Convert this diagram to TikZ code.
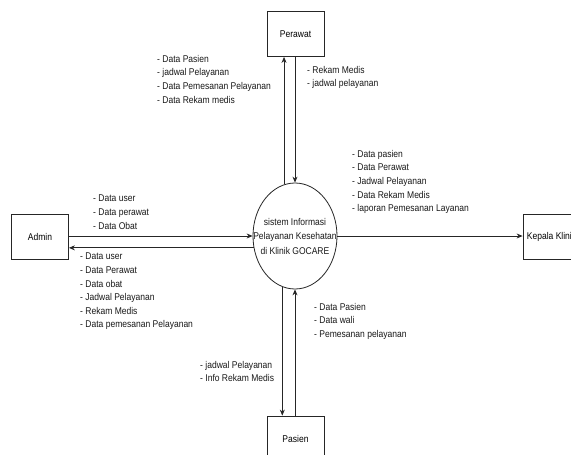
\documentclass[tikz,border=0pt]{standalone}
\usepackage{fontspec}
\setmainfont{Liberation Sans}[FakeStretch=0.87]
\usetikzlibrary{arrows.meta,shapes.geometric}
\newcommand\lblfont{\fontsize{9.8}{13.6}\selectfont}
\begin{document}
\begin{tikzpicture}[x=1pt,y=-1pt,
  ent/.style={draw=black!85, line width=0.8pt, minimum width=57pt, minimum height=45pt, inner sep=0pt, font=\lblfont},
  proc/.style={draw=black!85, line width=0.8pt, ellipse, minimum width=84pt, minimum height=106pt, inner sep=0pt},
  proctext/.style={align=center, inner sep=0pt, font=\lblfont\setlength{\baselineskip}{14.5pt}, text=black!90},
  lab/.style={anchor=north west, align=left, inner sep=0pt, font=\lblfont, text=black!90},
  flow/.style={draw=black!85, line width=0.8pt, -{Stealth[length=6pt,width=5pt]}}]
\useasboundingbox (0,0) rectangle (571,455);
\fill[white] (0,0) rectangle (571,455);
\clip (0,0) rectangle (571,455);
% entities
\node[ent] (P) at (295.5,34) {Perawat};
\node[ent] (A) at (40,236.5) {Admin};
\node[ent] (K) at (551.5,236.5) {Kepala Klinik};
\node[ent] (S) at (295.5,438.5) {Pasien};
\node[proc] (E) at (295,236) {};
\node[proctext] (Et) at (E.center) {sistem Informasi\\Pelayanan Kesehatan\\di Klinik GOCARE};
% flows
\draw[flow] (E.102) -- (E.102 |- P.south);
\draw[flow] (P.south -| E.north) -- (E.north);
\draw[flow] (A.east |- E.west) -- (E.west);
\draw[flow] (E.196) -- (E.196 -| A.east);
\draw[flow] (E.east) -- (K.west |- E.east);
\draw[flow] (E.256) -- (E.256 |- S.north);
\draw[flow] (S.north -| E.south) -- (E.south);
% labels
\node[lab] (l1) at (157,55) {- Data Pasien\\- jadwal Pelayanan\\- Data Pemesanan Pelayanan\\- Data Rekam medis};
\node[lab] (l2) at (307,66) {- Rekam Medis\\- jadwal pelayanan};
\node[lab] (l3) at (93,195) {- Data user\\- Data perawat\\- Data Obat};
\node[lab] (l4) at (80,253) {- Data user\\- Data Perawat\\- Data obat\\- Jadwal Pelayanan\\- Rekam Medis\\- Data pemesanan Pelayanan};
\node[lab] (l5) at (352,150) {- Data pasien\\- Data Perawat\\- Jadwal Pelayanan\\- Data Rekam Medis\\- laporan Pemesanan Layanan};
\node[lab] (l6) at (314,303) {- Data Pasien\\- Data wali\\- Pemesanan pelayanan};
\node[lab] (l7) at (200,361) {- jadwal Pelayanan\\- Info Rekam Medis};
\end{tikzpicture}
\end{document}
